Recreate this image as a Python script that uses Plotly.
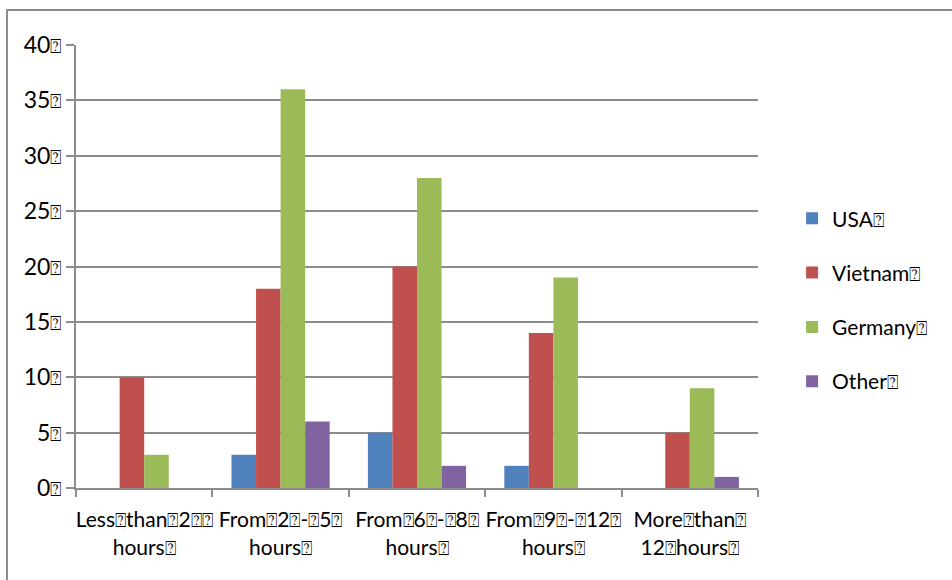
import plotly.graph_objects as go

# narrow boxed-question glyph used as the separator throughout the labels
Q = '<span style="font-size:19px">\u2370</span>'

categories = [
    f"Less{Q}than{Q}2{Q}{Q}<br>hours{Q}",
    f"From{Q}2{Q}-{Q}5{Q}<br>hours{Q}",
    f"From{Q}6{Q}-{Q}8{Q}<br>hours{Q}",
    f"From{Q}9{Q}-{Q}12{Q}<br>hours{Q}",
    f"More{Q}than{Q}<br>12{Q}hours{Q}",
]
series_names = [f"USA{Q}", f"Vietnam{Q}", f"Germany{Q}", f"Other{Q}"]
usa = [0, 3, 5, 2, 0]
vietnam = [10, 18, 20, 14, 5]
germany = [3, 36, 28, 19, 9]
other = [0, 6, 2, 0, 1]
colors = ["#4F81BD", "#C0504D", "#9BBB59", "#8064A2"]

y_ticks = [0, 5, 10, 15, 20, 25, 30, 35, 40]
y_ticktext = [f"{v}{Q}" for v in y_ticks]

FONT = "Lato, 'DejaVu Sans', sans-serif"
GRID = "#8C8C8C"

fig = go.Figure()
for name, vals, col in zip(series_names, [usa, vietnam, germany, other], colors):
    fig.add_trace(go.Bar(
        x=categories, y=vals, name=name, legendgroup=name,
        marker=dict(color=col, line=dict(width=0)),
    ))

fig.update_layout(
    width=952, height=580,
    margin=dict(l=76, r=194, t=45, b=92, autoexpand=False),
    paper_bgcolor="white", plot_bgcolor="white",
    barmode="group", bargap=0.28, bargroupgap=0,
    font=dict(family=FONT, size=20, color="#000000"),
    legend=dict(
        x=1.05, y=0.424, xanchor="left", yanchor="middle",
        font=dict(family=FONT, size=21),
        tracegroupgap=24, itemwidth=30,
    ),
    xaxis=dict(
        type="category", showline=True, linecolor=GRID, linewidth=2,
        ticks="outside", ticklen=7, tickcolor=GRID, tickwidth=2,
        tickson="boundaries", showgrid=False, tickangle=0, automargin=False,
        ticklabelstandoff=12,
        tickfont=dict(family=FONT, size=21),
    ),
    yaxis=dict(
        range=[0, 40], tickvals=y_ticks, ticktext=y_ticktext,
        showline=True, linecolor=GRID, linewidth=2, automargin=False,
        ticks="outside", ticklen=8, tickcolor=GRID, tickwidth=2,
        showgrid=True, gridcolor=GRID, gridwidth=2,
        zeroline=False, tickfont=dict(family=FONT, size=23),
    ),
    shapes=[dict(
        type="rect", xref="paper", yref="paper",
        x0=-0.1012, x1=1.6, y0=-0.4, y1=1.079,
        line=dict(color=GRID, width=2), fillcolor="rgba(0,0,0,0)",
        layer="below",
    )],
)

fig.write_html("out.html")
